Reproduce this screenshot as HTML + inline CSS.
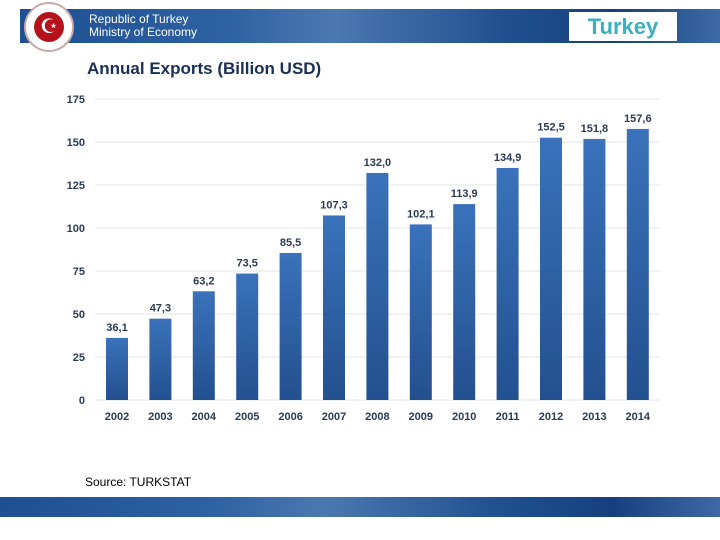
<!DOCTYPE html>
<html><head><meta charset="utf-8"><style>
body{margin:0;width:720px;height:540px;background:#fff;position:relative;overflow:hidden;font-family:"Liberation Sans",sans-serif}
.band{position:absolute;background:linear-gradient(90deg,#1d4f92 0%,#2f62a3 30%,#4b78b0 45%,#1f4f8f 70%,#15407f 85%,#3d6aa4 100%)}
</style></head><body>
<div class="band" style="left:20px;top:9px;width:700px;height:34px"></div>
<div style="position:absolute;left:24px;top:2px;width:50px;height:50px;border-radius:50%;background:#fff;border:2px solid #c9a9a9;box-sizing:border-box"><div style="position:absolute;left:8px;top:8px;width:30px;height:30px;border-radius:50%;background:#b5121b;color:#fff;font-size:20px;text-align:center;line-height:30px">☪</div></div>
<div style="position:absolute;left:89px;top:13px;color:#fff;font-size:12px;line-height:13px">Republic of Turkey<br>Ministry of Economy</div>
<div style="position:absolute;left:569px;top:12px;width:108px;height:29px;background:#fff;color:#3ab0c0;font-size:22px;font-weight:bold;text-align:center;line-height:29px">Turkey</div>
<div style="position:absolute;left:87px;top:59px;font-size:17px;font-weight:bold;color:#1a2f55">Annual Exports (Billion USD)</div>
<svg id="chart" width="720" height="540" style="position:absolute;left:0;top:0">
<defs><linearGradient id="g" x1="0" y1="0" x2="0" y2="1"><stop offset="0" stop-color="#3a72bb"/><stop offset="1" stop-color="#23508f"/></linearGradient></defs>
</svg>
<div style="position:absolute;left:85px;top:475px;font-size:12px;color:#000">Source: TURKSTAT</div>
<div class="band" style="left:0;top:497px;width:720px;height:20px"></div>
<script>
const years=["2002","2003","2004","2005","2006","2007","2008","2009","2010","2011","2012","2013","2014"];
const values=[36.1,47.3,63.2,73.5,85.5,107.3,132.0,102.1,113.9,134.9,152.5,151.8,157.6];
const ticks=[0,25,50,75,100,125,150,175];
const svg=document.getElementById('chart');const NS='http://www.w3.org/2000/svg';
const y=v=>400-v*301/175;const x=i=>117+i*43.4;
function mk(t,a,txt){const e=document.createElementNS(NS,t);for(const k in a)e.setAttribute(k,a[k]);if(txt!=null)e.textContent=txt;svg.appendChild(e);return e;}
ticks.forEach(t=>{
const l=mk('line',{x1:95,x2:660,y1:y(t),y2:y(t),stroke:'#e3e6ea','stroke-width':1});


const tx=mk('text',{x:85,y:y(t)+4,'text-anchor':'end','font-size':11,'font-weight':'bold',fill:'#2b3a55'},t);


});
values.forEach((v,i)=>{
const r=mk('rect',{x:x(i)-11,y:y(v),width:22,height:400-y(v),fill:'url(#g)'});


const lb=mk('text',{x:x(i),y:y(v)-7,'text-anchor':'middle','font-size':11,'font-weight':'bold',fill:'#2b3a55'},v.toFixed(1).replace('.',','));


const xl=mk('text',{x:x(i),y:420,'text-anchor':'middle','font-size':11,'font-weight':'bold',fill:'#2b3a55'},years[i]);


});
</script>
</body></html>
